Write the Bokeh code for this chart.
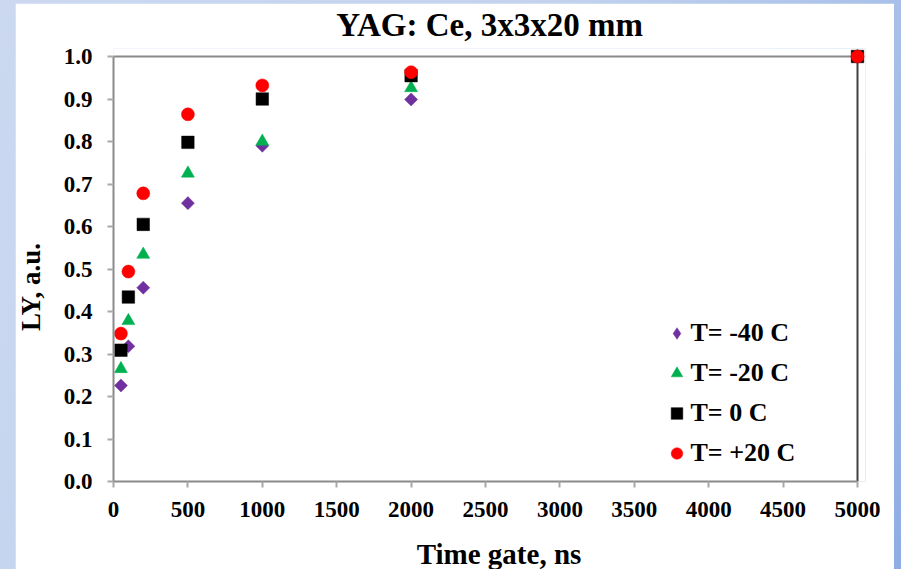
import math
from bokeh.plotting import figure
from bokeh.models import (Range1d, FixedTicker, PrintfTickFormatter, Legend,
                          LegendItem, Label)
from bokeh.layouts import column
from bokeh.embed import file_html
from bokeh.resources import INLINE

# ---- data ----
time_ns = [50, 100, 200, 500, 1000, 2000, 5000]
ly_m40 = [0.226, 0.318, 0.456, 0.655, 0.790, 0.899, 1.0]
ly_m20 = [0.265, 0.378, 0.534, 0.725, 0.800, 0.926, 1.0]
ly_0 = [0.309, 0.434, 0.605, 0.798, 0.900, 0.955, 1.0]
ly_p20 = [0.348, 0.494, 0.678, 0.864, 0.932, 0.963, 1.0]
series_names = ["T= -40 C", "T= -20 C", "T= 0 C", "T= +20 C"]
x_ticks = [0, 500, 1000, 1500, 2000, 2500, 3000, 3500, 4000, 4500, 5000]
y_ticks = [0.0, 0.1, 0.2, 0.3, 0.4, 0.5, 0.6, 0.7, 0.8, 0.9, 1.0]
title_text = "YAG: Ce, 3x3x20 mm"
x_label = "Time gate, ns"
y_label = "LY, a.u."

FONT = "Liberation Serif"
FW, FH, PAD = 752, 433, 8
x_max = x_ticks[-1]
y_max = y_ticks[-1]

p = figure(title=None, frame_width=FW, frame_height=FH,
           x_range=Range1d(0, x_max * FW / (FW - PAD)),
           y_range=Range1d(0, y_max * FH / (FH - PAD)),
           min_border_left=98, min_border_right=29,
           min_border_top=45, min_border_bottom=88,
           output_backend="svg", toolbar_location=None,
           background_fill_color="white", border_fill_color="white")
p.outline_line_color = None
p.xgrid.visible = False
p.ygrid.visible = False

for ax in (p.xaxis[0], p.yaxis[0]):
    ax.axis_line_color = "#8a8a8a"
    ax.axis_line_width = 2
    ax.major_tick_line_color = "#a8a8a8"
    ax.major_tick_line_width = 2
    ax.major_tick_out = 6
    ax.major_tick_in = 0
    ax.minor_tick_line_color = None
    ax.major_label_text_font = FONT
    ax.major_label_text_font_size = "23px"
    ax.major_label_text_font_style = "bold"
    ax.major_label_text_color = "black"

p.xaxis.ticker = FixedTicker(ticks=x_ticks)
p.xaxis.bounds = (0, x_max)
p.xaxis.major_label_standoff = 14
p.yaxis.ticker = FixedTicker(ticks=y_ticks)
p.yaxis.bounds = (0, y_max)
p.yaxis.formatter = PrintfTickFormatter(format="%.1f")
p.yaxis.major_label_standoff = 15

# chart title and axis titles, placed in the side panels
# (screen units relative to their panel)
p.add_layout(Label(x=FW / 2, y=24, x_units="screen", y_units="screen",
                   text=title_text, text_align="center",
                   text_baseline="middle", text_font=FONT, text_font_size="33px",
                   text_font_style="bold", text_color="black"), "above")
p.add_layout(Label(x=0, y=194.5, x_units="screen", y_units="screen",
                   text=y_label, angle=math.pi / 2, text_align="center",
                   text_baseline="middle", text_font=FONT, text_font_size="27px",
                   text_font_style="bold", text_color="black"), "left")
p.add_layout(Label(x=385.5, y=-2.5, x_units="screen", y_units="screen",
                   text=x_label, text_align="center",
                   text_baseline="middle", text_font=FONT, text_font_size="29px",
                   text_font_style="bold", text_color="black"), "below")

# plot-area box (top and right edges)
p.segment(x0=[0], y0=[y_max], x1=[x_max], y1=[y_max], line_color="#8a8a8a", line_width=2)
p.segment(x0=[x_max], y0=[0], x1=[x_max], y1=[y_max], line_color="#404040", line_width=2)

r1 = p.scatter(time_ns, ly_m40, marker="square", angle=math.pi / 4, size=9.2,
               fill_color="#7030A0", line_color="#7030A0", line_width=0.5)
r2 = p.scatter(time_ns, ly_m20, marker="triangle", size=13,
               fill_color="#00B050", line_color="#00B050", line_width=0.5)
r3 = p.scatter(time_ns, ly_0, marker="square", size=12.5,
               fill_color="#000000", line_color="#000000", line_width=0.5)
r4 = p.scatter(time_ns, ly_p20, marker="circle", size=13,
               fill_color="#FF0000", line_color="#FF0000", line_width=0.5)
# legend swatch for the diamond series (legend glyphs are drawn unrotated)
r1_key = p.scatter(time_ns, ly_m40, marker="diamond", fill_color="#7030A0",
                   line_color="#7030A0", line_width=0.5, visible=False)

legend = Legend(items=[LegendItem(label=n, renderers=[r])
                       for n, r in zip(series_names, [r1_key, r2, r3, r4])],
                location=(548.5, 12), border_line_color=None,
                background_fill_alpha=0, padding=0, margin=0, spacing=8,
                glyph_width=29, glyph_height=32, label_height=32,
                label_standoff=0, label_text_font=FONT,
                label_text_font_size="26px", label_text_font_style="bold",
                label_text_color="black", inactive_fill_alpha=0)
p.add_layout(legend)

layout = column(p, styles={
    "background": "linear-gradient(120deg, #cbd8f0 0%, #c3d3ee 45%, #8eade3 100%)",
    "padding": "3px 7px 0px 15px"})

open("out.html", "w").write(file_html(layout, INLINE))
